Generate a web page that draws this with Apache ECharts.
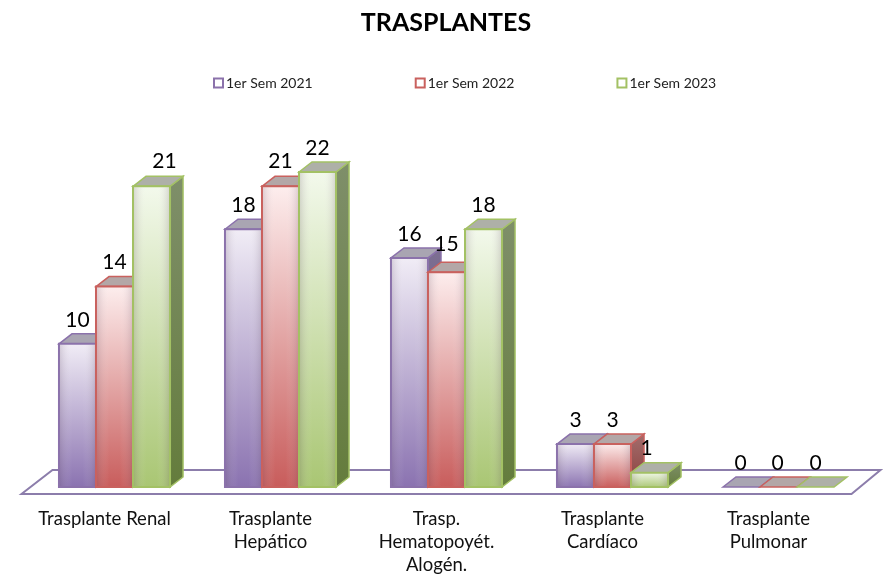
<!DOCTYPE html>
<html>
<head>
    <meta charset="utf-8"/>
    <title>TRASPLANTES</title>
    <style>
        html, body { margin: 0; padding: 0; background: #fff; }
        #main { width: 885px; height: 579px; }
    </style>
</head>
<body>
<div id="main"></div>
<script src="https://cdn.jsdelivr.net/npm/echarts@6/dist/echarts.min.js"></script>
<script type="text/javascript">
    var categories = ['Trasplante Renal', 'Trasplante\nHepático', 'Trasp.\nHematopoyét.\nAlogén.', 'Trasplante\nCardíaco', 'Trasplante\nPulmonar']
    var semesters = ['1er Sem 2021', '1er Sem 2022', '1er Sem 2023']
    var sem2021 = [10, 18, 16, 3, 0]
    var sem2022 = [14, 21, 15, 3, 0]
    var sem2023 = [21, 22, 18, 1, 0]

    // colores por serie: borde, arriba, abajo, lateral, tapa
    var colors = [
        {line: '#8b72ab', top: '#f1edf6', bottom: '#8a72b0', sideA: '#7d6f92', sideB: '#5f4c7c', cap: '#a9a5b2'},
        {line: '#c9615e', top: '#fdeeee', bottom: '#c85c5b', sideA: '#a26e6d', sideB: '#8c3f3d', cap: '#b3a7a7'},
        {line: '#a3c164', top: '#f3f9ec', bottom: '#a9c673', sideA: '#7f8f6a', sideB: '#647c3c', cap: '#aeb0a8'}
    ]
    // etiquetas movidas a mano en el original: "serie-categoria": [dx, dy]
    var labelNudge = {'2-0': [13, -1], '1-1': [0, -1], '1-2': [0, -4], '2-3': [-3, 0], '0-4': [-1, 0], '1-4': [-1, 0]}

    var DEPTH_X = 13
    var DEPTH_Y = 10
    var BAR_SHIFT = 10   // las barras van corridas respecto a la etiqueta del eje

    var grad = echarts.graphic.LinearGradient

    function barItem(s) {
        return function (params, api) {
            var c = colors[s]
            var band = api.size([1, 0])[0]
            var w = band * 0.223
            var val = api.value(1)
            var p = api.coord([api.value(0), val])
            var base = api.coord([api.value(0), 0])
            var x = p[0] + BAR_SHIFT + (s - 1) * w - w / 2
            var y = p[1]
            var h = base[1] - y
            var children = []

            if (h > 0) {
                children.push({
                    type: 'polygon',
                    shape: {points: [[x + w, y], [x + w + DEPTH_X, y - DEPTH_Y], [x + w + DEPTH_X, base[1] - DEPTH_Y], [x + w, base[1]]]},
                    style: {fill: new grad(0, 0, 0, 1, [{offset: 0, color: c.sideA}, {offset: 1, color: c.sideB}]), stroke: c.line, lineWidth: 1.5}
                })
            }
            children.push({
                type: 'polygon',
                shape: {points: [[x, y], [x + DEPTH_X, y - DEPTH_Y], [x + w + DEPTH_X, y - DEPTH_Y], [x + w, y]]},
                style: {fill: c.cap, stroke: c.line, lineWidth: 1.5}
            })
            if (h > 0) {
                children.push({
                    type: 'rect',
                    shape: {x: x, y: y, width: w, height: h},
                    style: {fill: new grad(0, 0, 0, 1, [{offset: 0, color: c.top}, {offset: 1, color: c.bottom}]), stroke: c.line, lineWidth: 2}
                })
                children.push({
                    type: 'rect',
                    shape: {x: x + 1, y: y + 1, width: w - 2, height: h - 2},
                    style: {fill: new grad(0, 0, 1, 0, [
                        {offset: 0, color: 'rgba(110,90,110,0.2)'},
                        {offset: 0.35, color: 'rgba(255,255,255,0)'},
                        {offset: 0.65, color: 'rgba(255,255,255,0)'},
                        {offset: 1, color: 'rgba(110,90,110,0.2)'}
                    ])}
                })
            }
            var nudge = labelNudge[s + '-' + params.dataIndex] || [0, 0]
            children.push({
                type: 'text',
                z2: 100,
                style: {
                    text: String(val),
                    x: x + w / 2 + nudge[0],
                    y: y - 24 + nudge[1],
                    align: 'center',
                    verticalAlign: 'middle',
                    fill: '#000',
                    font: '21px Lato'
                }
            })
            return {type: 'group', children: children}
        }
    }

    function floorItem(params, api) {
        var cs = params.coordSys
        var front = cs.y + cs.height + 7
        var back = cs.y + cs.height - 17
        return {
            type: 'polygon',
            shape: {points: [[cs.x, front], [cs.x + cs.width, front], [cs.x + cs.width + 29, back], [cs.x + 31, back]]},
            style: {fill: '#fff', stroke: '#8c7dab', lineWidth: 2}
        }
    }

    function seriesFor(name, values, s) {
        return {
            type: 'custom',
            name: name,
            z: 3 + s,
            data: values.map(function (v, i) { return [i, v] }),
            encode: {x: 0, y: 1},
            renderItem: barItem(s)
        }
    }

    var myChart = echarts.init(document.getElementById('main'))
    myChart.setOption({
        animation: false,
        title: {
            text: 'TRASPLANTES',
            left: 441,
            top: 5,
            textAlign: 'center',
            textStyle: {fontFamily: 'Lato', fontWeight: 'bold', fontSize: 25, color: '#000'}
        },
        legend: {
            left: 208,
            top: 71,
            itemWidth: 9,
            itemHeight: 9,
            itemGap: 102,
            textStyle: {fontFamily: 'Lato', fontSize: 14, color: '#222', padding: [0, 0, 0, -2]},
            data: semesters.map(function (n, i) {
                return {name: n, icon: 'rect', itemStyle: {color: '#fff', borderColor: colors[i].line, borderWidth: 2}}
            })
        },
        grid: {left: 21.5, right: 33.5, top: 172, bottom: 92},
        xAxis: {
            type: 'category',
            data: categories,
            axisLine: {show: false},
            axisTick: {show: false},
            axisLabel: {margin: 21, interval: 0, fontFamily: 'Lato', fontSize: 18.5, lineHeight: 23, color: '#111'}
        },
        yAxis: {type: 'value', min: 0, max: 22, show: false, splitLine: {show: false}},
        series: [
            {type: 'custom', z: 1, data: [[0, 0]], encode: {x: 0, y: 1}, renderItem: floorItem, silent: true},
            seriesFor(semesters[0], sem2021, 0),
            seriesFor(semesters[1], sem2022, 1),
            seriesFor(semesters[2], sem2023, 2)
        ]
    })
</script>
</body>
</html>
